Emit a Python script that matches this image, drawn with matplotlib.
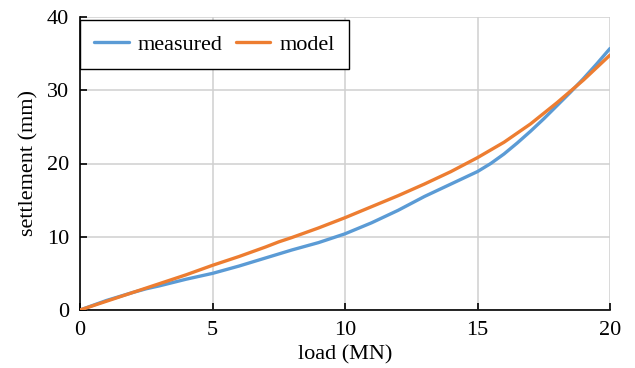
import matplotlib
matplotlib.use("Agg")
import matplotlib.pyplot as plt

measured_x = [0, 1, 2, 2.5, 3, 4, 5, 6, 7, 8, 9, 10, 11, 12, 13, 14, 15, 15.5, 16, 16.5, 17,
              17.5, 18, 18.5, 19, 19.5, 20]
measured_y = [0, 1.3, 2.4, 2.9, 3.3, 4.2, 5.0, 6.0, 7.1, 8.2, 9.2, 10.4, 11.9, 13.6, 15.5, 17.2,
              18.9, 20.0, 21.3, 22.8, 24.4, 26.1, 27.9, 29.7, 31.6, 33.6, 35.7]

model_x = [0, 1, 2, 2.5, 3, 4, 5, 6, 7, 7.5, 8, 9, 10, 11, 12, 12.5, 13, 14, 15, 16, 17, 18, 19, 20]
model_y = [0, 1.2, 2.4, 3.0, 3.6, 4.8, 6.1, 7.3, 8.6, 9.3, 9.9, 11.2, 12.6, 14.1, 15.6, 16.4,
           17.2, 18.9, 20.8, 22.9, 25.4, 28.3, 31.4, 34.8]

x_ticks = [0, 5, 10, 15, 20]
y_ticks = [0, 10, 20, 30, 40]

plt.rcParams['font.family'] = ['Liberation Serif', 'DejaVu Serif']

fig = plt.figure(figsize=(6.35, 3.68), dpi=100)
ax = fig.add_axes([80/635, 58/368, 530/635, 293/368])

ax.plot(measured_x, measured_y, color='#5B9BD5', lw=2.4, label='measured',
        solid_capstyle='round', solid_joinstyle='round', zorder=3)
ax.plot(model_x, model_y, color='#ED7D31', lw=2.4, label='model',
        solid_capstyle='round', solid_joinstyle='round', zorder=3)

ax.set_xlim(0, 20)
ax.set_ylim(0, 40)
ax.set_xticks(x_ticks)
ax.set_yticks(y_ticks)
ax.grid(True, color='#D0D0D0', lw=1.1)
ax.set_axisbelow(True)

for s in ['top', 'right']:
    ax.spines[s].set_visible(False)
for s in ['left', 'bottom']:
    ax.spines[s].set_color('black')
    ax.spines[s].set_linewidth(1.2)

ax.tick_params(direction='in', length=5, width=1.2, labelsize=16, pad=8, colors='black')
ax.set_xlabel('load (MN)', fontsize=16, labelpad=4)
ax.set_ylabel('settlement (mm)', fontsize=16, labelpad=6)

leg = ax.legend(loc='upper left', ncol=2, fontsize=16, frameon=True, fancybox=False,
                edgecolor='black', framealpha=1, borderaxespad=0.0, handlelength=1.55,
                handletextpad=0.4, columnspacing=0.6, borderpad=0.65,
                bbox_to_anchor=(0.0, 0.99))
leg.get_frame().set_linewidth(1.0)

fig.savefig('out.png', dpi=100)
